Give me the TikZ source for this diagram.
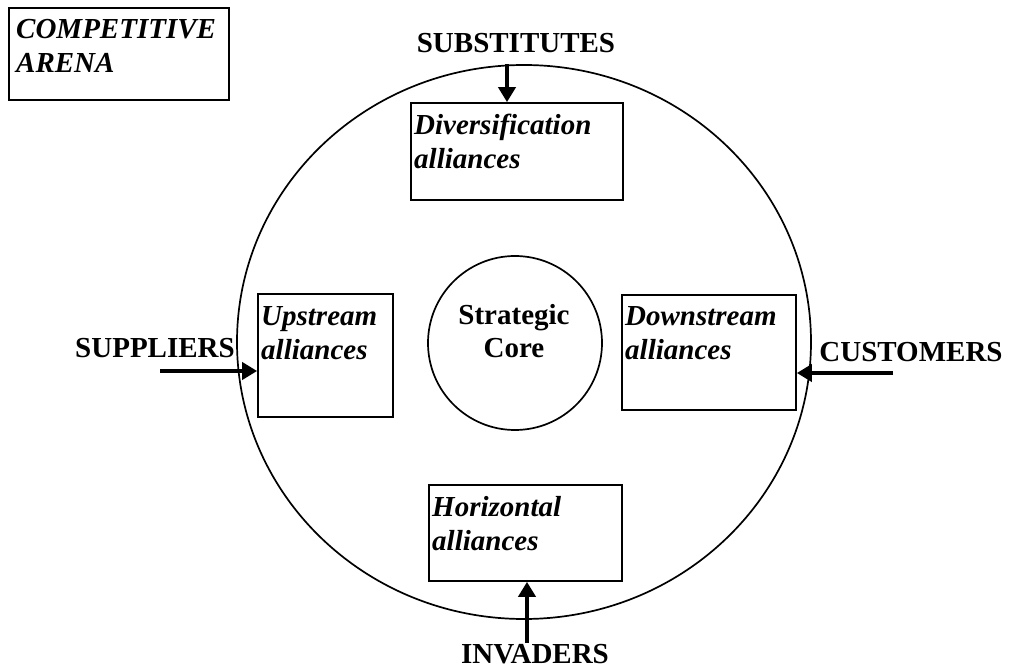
\documentclass[tikz,border=0pt]{standalone}
\usepackage{fontspec}
\setmainfont{Liberation Serif}
\usetikzlibrary{arrows.meta,shapes.geometric}

\tikzset{
  every picture/.style={x=1pt,y=-1pt},
  frame/.style={draw, line width=1.7pt, inner sep=0pt},
  boxtext/.style={inner sep=0pt, anchor=base west, align=left,
    font=\fontsize{29}{34}\selectfont\bfseries\itshape},
  force/.style={inner sep=0pt, anchor=base,
    font=\fontsize{29}{34}\selectfont\bfseries},
  push/.style={line width=4pt, -{Triangle[length=15pt,width=17pt]}},
}

\begin{document}
\begin{tikzpicture}
  \useasboundingbox (0,0) rectangle (1010,668);

  % title box (text anchors sit on the baseline of the last line)
  \node[frame, minimum width=220pt, minimum height=92pt] (title) at (119,54) {};
  \node[boxtext] (titletext) at (16,73) {COMPETITIVE\\ARENA};

  % the arena and its strategic core
  \node[frame, ellipse, minimum width=574pt, minimum height=554pt] (arena) at (524,342) {};
  \node[frame, circle, minimum size=174pt] (core) at (515,343) {};
  \node[inner sep=0pt, anchor=base, align=center,
        font=\fontsize{29}{33}\selectfont\bfseries] (coretext) at (514,358) {Strategic\\Core};

  % alliance boxes
  \node[frame, minimum width=212pt, minimum height=97pt] (div) at (517,151.5) {};
  \node[boxtext] (divtext) at (414,169) {Diversification\\alliances};

  \node[frame, minimum width=135pt, minimum height=123pt] (up) at (325.5,355.5) {};
  \node[boxtext] (uptext) at (261,360) {Upstream\\alliances};

  \node[frame, minimum width=174pt, minimum height=115pt] (down) at (709,352.5) {};
  \node[boxtext] (downtext) at (625,360) {Downstream\\alliances};

  \node[frame, minimum width=193pt, minimum height=96pt] (hor) at (525.5,533) {};
  \node[boxtext] (hortext) at (432,550) {Horizontal\\alliances};

  % outside forces
  \node[force] (subst) at (516,53) {SUBSTITUTES};
  \node[force] (suppl) at (155,358) {SUPPLIERS};
  \node[force] (cust) at (911,362) {CUSTOMERS};
  \node[force] (inv) at (535,663) {INVADERS};

  \coordinate (sfrom) at (507,64);
  \coordinate (pfrom) at (160,371);
  \coordinate (cfrom) at (893,373);
  \coordinate (ifrom) at (527,643);

  \draw[push] (sfrom) -- (sfrom |- div.north);
  \draw[push] (pfrom) -- (pfrom -| up.west);
  \draw[push] (cfrom) -- (cfrom -| down.east);
  \draw[push] (ifrom) -- (ifrom |- hor.south);
\end{tikzpicture}
\end{document}
